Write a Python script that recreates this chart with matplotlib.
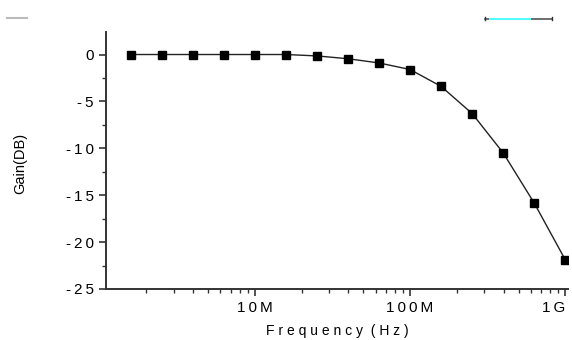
import matplotlib
matplotlib.use('Agg')
import matplotlib.pyplot as plt
from matplotlib.lines import Line2D
from matplotlib.ticker import LogLocator, FixedLocator, MultipleLocator, NullFormatter
import numpy as np

plt.rcParams['font.family'] = ['Liberation Sans', 'DejaVu Sans']
plt.rcParams['axes.unicode_minus'] = False

# frequency points in Hz (log spaced, 0.2 decade) and measured gain in dB
freq_exp = [6.2, 6.4, 6.6, 6.8, 7.0, 7.2, 7.4, 7.6, 7.8, 8.0, 8.2, 8.4, 8.6, 8.8, 9.0]
gain_db = [0.0, 0.0, 0.0, 0.0, 0.0, 0.0, -0.15, -0.45, -0.9, -1.6, -3.4,
           -6.3, -10.5, -15.85, -21.9]
xtick_vals = [1e7, 1e8, 1e9]
xtick_labels = ['10M', '100M', '1G']
ytick_vals = [-25, -20, -15, -10, -5, 0]
ytick_labels = ['-25', '-20', '-15', '-10', '-5', '0']

freq = [10 ** e for e in freq_exp]


def spaced(s):
    # the original tick text is drawn stretched; mimic with thin spaces
    return '\u2009'.join(s)


fig = plt.figure(figsize=(5.72, 3.40), dpi=100)
ax = fig.add_axes([106 / 572, 51 / 340, 462 / 572, 257 / 340])

ax.plot(freq, gain_db, color='#222222', lw=1.0, marker='s', ms=5.2,
        mfc='black', mec='black')

ax.set_xscale('log')
ax.set_xlim(1.1e6, 1.04e9)
ax.set_ylim(-25, 2.4)

ax.xaxis.set_major_locator(FixedLocator(xtick_vals))
ax.set_xticklabels([spaced(t) for t in xtick_labels])
ax.xaxis.set_minor_locator(LogLocator(base=10, subs=np.arange(2, 10)))
ax.xaxis.set_minor_formatter(NullFormatter())
ax.yaxis.set_major_locator(FixedLocator(ytick_vals))
ax.set_yticklabels([spaced(t) for t in ytick_labels])
ax.yaxis.set_minor_locator(MultipleLocator(2.5))

for s in ['top', 'right']:
    ax.spines[s].set_visible(False)
for s in ['left', 'bottom']:
    ax.spines[s].set_linewidth(1.4)
    ax.spines[s].set_color('#333333')

ax.tick_params(which='major', direction='out', length=5, width=1.2,
               labelsize=11, colors='#333333', labelcolor='black', pad=4)
ax.tick_params(which='minor', direction='out', length=3, width=1.0,
               colors='#333333')
for lab in ax.get_xticklabels():
    if lab.get_text().startswith('1\u2009G'):
        lab.set_horizontalalignment('right')
        lab.set_x(lab.get_position()[0])

ax.set_xlabel('F r e q u e n c y  ( H z )', fontsize=10, labelpad=6)
ax.set_ylabel('Gain(DB)', fontsize=10.5)
ax.yaxis.set_label_coords(-0.171, 0.49)

# leftover legend strokes at the top of the original figure
tf = fig.transFigure
fig.add_artist(Line2D([7 / 572, 27 / 572], [1 - 18 / 340] * 2, color='#bbbbbb',
                      lw=1.5, transform=tf))
fig.add_artist(Line2D([485 / 572, 552 / 572], [1 - 19 / 340] * 2, color='#555555',
                      lw=1.2, transform=tf))
fig.add_artist(Line2D([490 / 572, 530 / 572], [1 - 19 / 340] * 2, color='#55ffff',
                      lw=1.5, transform=tf))
for xc in [485 / 572, 552 / 572]:
    fig.add_artist(Line2D([xc, xc], [1 - 16.5 / 340, 1 - 19.5 / 340], color='#333333',
                          lw=1.0, transform=tf))

fig.savefig('out.png', dpi=100)
